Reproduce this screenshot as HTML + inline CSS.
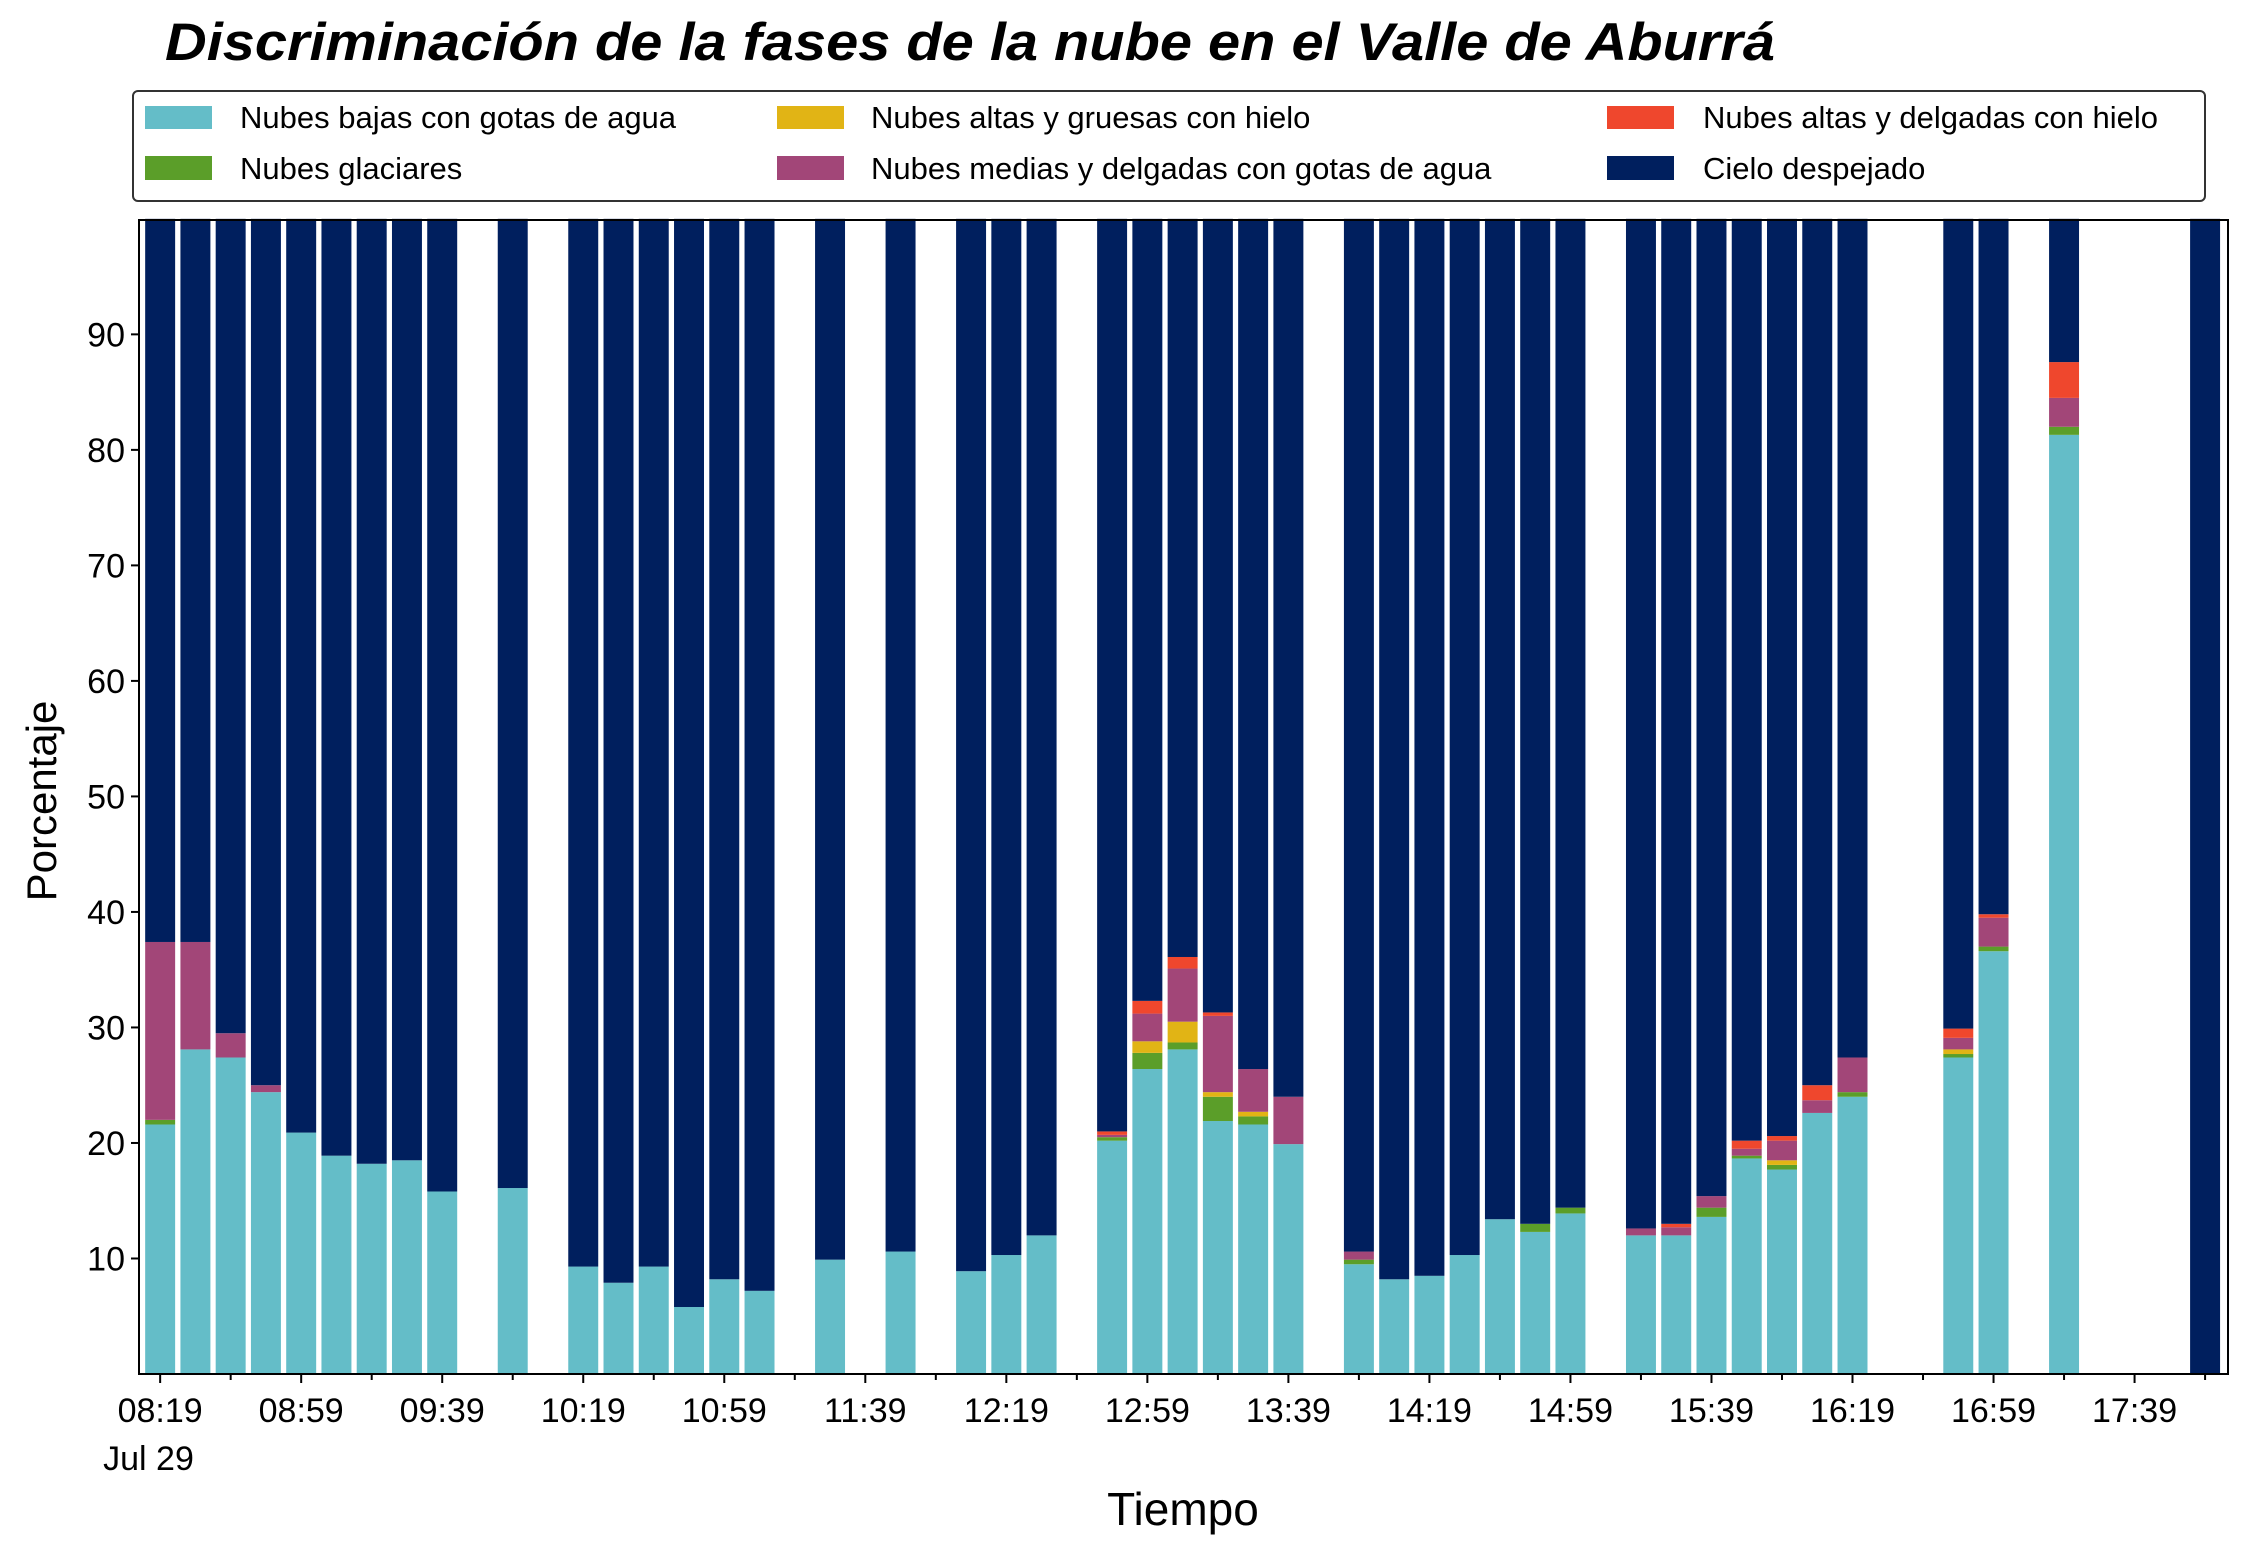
<!DOCTYPE html>
<html><head><meta charset="utf-8"><style>
html,body{margin:0;padding:0;background:#fff;}
svg{display:block;font-family:"Liberation Sans",sans-serif;}
</style></head><body>
<svg id="chart" width="2244" height="1559" viewBox="0 0 2244 1559">
<text x="165" y="60" font-size="53" font-weight="bold" font-style="italic" textLength="1610" lengthAdjust="spacingAndGlyphs">Discriminación de la fases de la nube en el Valle de Aburrá</text>
<g>
<rect x="133" y="91" width="2072" height="110" rx="5" fill="#fff" stroke="#333" stroke-width="2"/>
<g><rect x="145" y="106" width="67" height="23" fill="#64bdc8"/><text x="240" y="128" font-size="31">Nubes bajas con gotas de agua</text></g>
<g><rect x="145" y="156" width="67" height="24" fill="#5b9e29"/><text x="240" y="179" font-size="31">Nubes glaciares</text></g>
<g><rect x="777" y="106" width="67" height="23" fill="#e1b415"/><text x="871" y="128" font-size="31">Nubes altas y gruesas con hielo</text></g>
<g><rect x="777" y="156" width="67" height="24" fill="#a24678"/><text x="871" y="179" font-size="31">Nubes medias y delgadas con gotas de agua</text></g>
<g><rect x="1607" y="106" width="67" height="23" fill="#ef472d"/><text x="1703" y="128" font-size="31">Nubes altas y delgadas con hielo</text></g>
<g><rect x="1607" y="156" width="67" height="24" fill="#001f5e"/><text x="1703" y="179" font-size="31">Cielo despejado</text></g>
</g>
<g id="bars"></g>
<g id="axes"></g>
<text x="1183" y="1525" font-size="46" text-anchor="middle">Tiempo</text>
<text transform="translate(56,801) rotate(-90)" font-size="42" text-anchor="middle">Porcentaje</text>
</svg>
<script>
// minutes after 08:19
const times = [0,10,20,30,40,50,60,70,80,100,120,130,140,150,160,170,190,210,230,240,250,270,280,290,300,310,320,340,350,360,370,380,390,400,420,430,440,450,460,470,480,510,520,540,580];
const lowWater =  [21.6,28.1,27.4,24.4,20.9,18.9,18.2,18.5,15.8,16.1,9.3,7.9,9.3,5.8,8.2,7.2,9.9,10.6,8.9,10.3,12.0,20.2,26.4,28.1,21.9,21.6,19.9,9.5,8.2,8.5,10.3,13.4,12.3,13.9,12.0,12.0,13.6,18.66,17.7,22.6,24.0,27.4,36.6,81.3];
const glacier =   [0.4,0,0,0,0,0,0,0,0,0,0,0,0,0,0,0,0,0,0,0,0,0.3,1.4,0.6,2.1,0.7,0,0.4,0,0,0,0,0.7,0.5,0,0,0.8,0.24,0.4,0,0.4,0.3,0.4,0.7];
const highThick = [0,0,0,0,0,0,0,0,0,0,0,0,0,0,0,0,0,0,0,0,0,0,1.0,1.8,0.4,0.4,0,0,0,0,0,0,0,0,0,0,0,0,0.4,0,0,0.4,0,0];
const midThin =   [15.4,9.3,2.1,0.6,0,0,0,0,0,0,0,0,0,0,0,0,0,0,0,0,0,0.2,2.4,4.6,6.6,3.7,4.1,0.7,0,0,0,0,0,0,0.6,0.7,1.0,0.6,1.7,1.1,3.0,1.0,2.5,2.5];
const highThin =  [0,0,0,0,0,0,0,0,0,0,0,0,0,0,0,0,0,0,0,0,0,0.3,1.1,1.0,0.3,0,0,0,0,0,0,0,0,0,0,0.3,0,0.7,0.4,1.3,0,0.8,0.3,3.1];
const yTicks = [10,20,30,40,50,60,70,80,90];
const xTickLabels = ["08:19","08:59","09:39","10:19","10:59","11:39","12:19","12:59","13:39","14:19","14:59","15:39","16:19","16:59","17:39"];

const X0=139,X1=2228,Y0=1374,Y1=220;
const xMin=-6,xMax=586.5,yMin=0,yMax=99.9;
const xs=m=>X0+(m-xMin)/(xMax-xMin)*(X1-X0);
const ys=v=>Y0-(v-yMin)/(yMax-yMin)*(Y0-Y1);
const NS="http://www.w3.org/2000/svg";
const bars=document.getElementById('bars'), axes=document.getElementById('axes');
const series=[["low-water",lowWater,"#64bdc8"],["glacier",glacier,"#5b9e29"],["high-thick",highThick,"#e1b415"],["mid-thin",midThin,"#a24678"],["high-thin",highThin,"#ef472d"]];
const bw=(xs(8.5)-xs(0));
times.forEach((t,i)=>{
  let base=0;
  const xl=xs(t)-bw/2;
  series.forEach(([nm,arr,col])=>{
    const v=arr[i]; if(!v) return;
    const r=document.createElementNS(NS,'rect');
    r.setAttribute('x',xl);r.setAttribute('width',bw);
    r.setAttribute('y',ys(base+v));r.setAttribute('height',ys(base)-ys(base+v));
    r.setAttribute('fill',col);
    
    
    bars.appendChild(r); base+=v;
  });
  const r=document.createElementNS(NS,'rect');
  r.setAttribute('x',xl);r.setAttribute('width',bw);
  r.setAttribute('y',ys(100));r.setAttribute('height',ys(base)-ys(100));
  r.setAttribute('fill','#001f5e');
  
  
  bars.appendChild(r);
});
function el(tag,attrs,txt){const e=document.createElementNS(NS,tag);for(const k in attrs)e.setAttribute(k,attrs[k]);if(txt!=null)e.textContent=txt;axes.appendChild(e);return e;}
const frame=el('rect',{x:X0,y:Y1,width:X1-X0,height:Y0-Y1,fill:'none',stroke:'#000','stroke-width':2});


yTicks.forEach(v=>{
  const l=el('line',{x1:X0-8,x2:X0,y1:ys(v),y2:ys(v),stroke:'#000','stroke-width':2});
  
  
  const t=el('text',{x:X0-14,y:ys(v)+12,'font-size':34,'text-anchor':'end'},String(v));
  
  
});
for(let m=0;m<=580;m+=20){
  const major=m%40===0;
  const l=el('line',{x1:xs(m),x2:xs(m),y1:Y0,y2:Y0+(major?9:6),stroke:'#000','stroke-width':2});
  
  
}
xTickLabels.forEach((lab,i)=>{
  const t=el('text',{x:xs(i*40),y:1422,'font-size':34,'text-anchor':'middle'},lab);
  
  
});
const d=el('text',{x:xs(0)-57,y:1470,'font-size':34},'Jul 29');


</script>
</body></html>
